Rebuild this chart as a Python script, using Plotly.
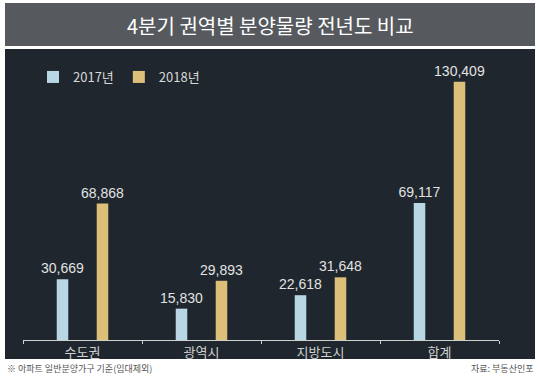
import plotly.graph_objects as go

categories = ["수도권", "광역시", "지방도시", "합계"]
series_names = ["2017년", "2018년"]
values_2017 = [30669, 15830, 22618, 69117]
values_2018 = [68868, 29893, 31648, 130409]
title_text = "4분기 권역별 분양물량 전년도 비교"
note_left = "※ 아파트 일반분양가구 기준(임대제외)"
note_right = "자료: 부동산인포"

W, H = 540, 378
L, R, T, B = 23, 41, 60, 38
PW, PH = W - L - R, H - T - B


def px_x(x):
    return (x - L) / PW


def px_y(y):
    return (H - B - y) / PH


c2017 = "#b9d6e5"
c2018 = "#dcc07a"
label_font = dict(family="Liberation Sans Narrow, Liberation Sans, sans-serif", size=14, color="#e2e2e2")

bw = 0.097
off = 0.168

fig = go.Figure()
fig.add_trace(go.Bar(
    x=categories, y=values_2017, name=series_names[0],
    marker=dict(color=c2017, line=dict(width=0)),
    width=bw, offset=-off - bw / 2,
    texttemplate="%{y:,}", textposition="outside", textfont=label_font,
    constraintext="none", cliponaxis=False,
))
fig.add_trace(go.Bar(
    x=categories, y=values_2018, name=series_names[1],
    marker=dict(color=c2018, line=dict(width=0)),
    width=bw, offset=off - bw / 2,
    texttemplate="%{y:,}", textposition="outside", textfont=label_font,
    constraintext="none", cliponaxis=False,
))

shapes = [
    dict(type="rect", xref="paper", yref="paper", layer="below",
         x0=px_x(5), x1=px_x(535), y0=px_y(46), y1=px_y(3),
         fillcolor="#565a5e", line=dict(width=0)),
    dict(type="rect", xref="paper", yref="paper", layer="below",
         x0=px_x(5), x1=px_x(535), y0=px_y(359), y1=px_y(49),
         fillcolor="#1f262d", line=dict(width=0)),
]

annotations = [
    dict(text=title_text, xref="paper", yref="paper", x=px_x(270), y=px_y(25),
         xanchor="center", yanchor="middle", showarrow=False,
         font=dict(family="Noto Sans CJK KR", size=20, color="#ffffff", weight=400)),
    dict(text=note_left, xref="paper", yref="paper", x=px_x(5), y=px_y(368),
         xanchor="left", yanchor="middle", showarrow=False,
         font=dict(family="Noto Sans CJK KR", size=9, color="#555555")),
    dict(text=note_right, xref="paper", yref="paper", x=px_x(535), y=px_y(368),
         xanchor="right", yanchor="middle", showarrow=False,
         font=dict(family="Noto Sans CJK KR", size=9, color="#555555")),
]

fig.update_layout(
    width=W, height=H,
    margin=dict(l=L, r=R, t=T, b=B, pad=0),
    paper_bgcolor="#ffffff",
    plot_bgcolor="rgba(0,0,0,0)",
    barmode="overlay",
    showlegend=True,
    legend=dict(orientation="h", x=px_x(33), y=px_y(77), xanchor="left", yanchor="middle",
                font=dict(family="Noto Sans CJK KR", size=13, color="#d8d8d8"),
                bgcolor="rgba(0,0,0,0)", itemwidth=30, traceorder="normal"),
    shapes=shapes,
    annotations=annotations,
    xaxis=dict(showgrid=False, zeroline=False, showline=True, linecolor="#d0d0d0", linewidth=1,
               ticks="outside", ticklen=3, tickcolor="#d0d0d0", tickson="boundaries",
               tickfont=dict(family="Noto Sans CJK KR", size=13, color="#d0d0d0"),
               range=[-0.5, 3.5], fixedrange=True),
    yaxis=dict(visible=False, range=[0, 141350], showgrid=False, zeroline=False, fixedrange=True),
)

fig.write_html("out.html", config={"displayModeBar": False},
               post_script="document.body.style.margin='0';document.body.style.overflow='hidden';")
